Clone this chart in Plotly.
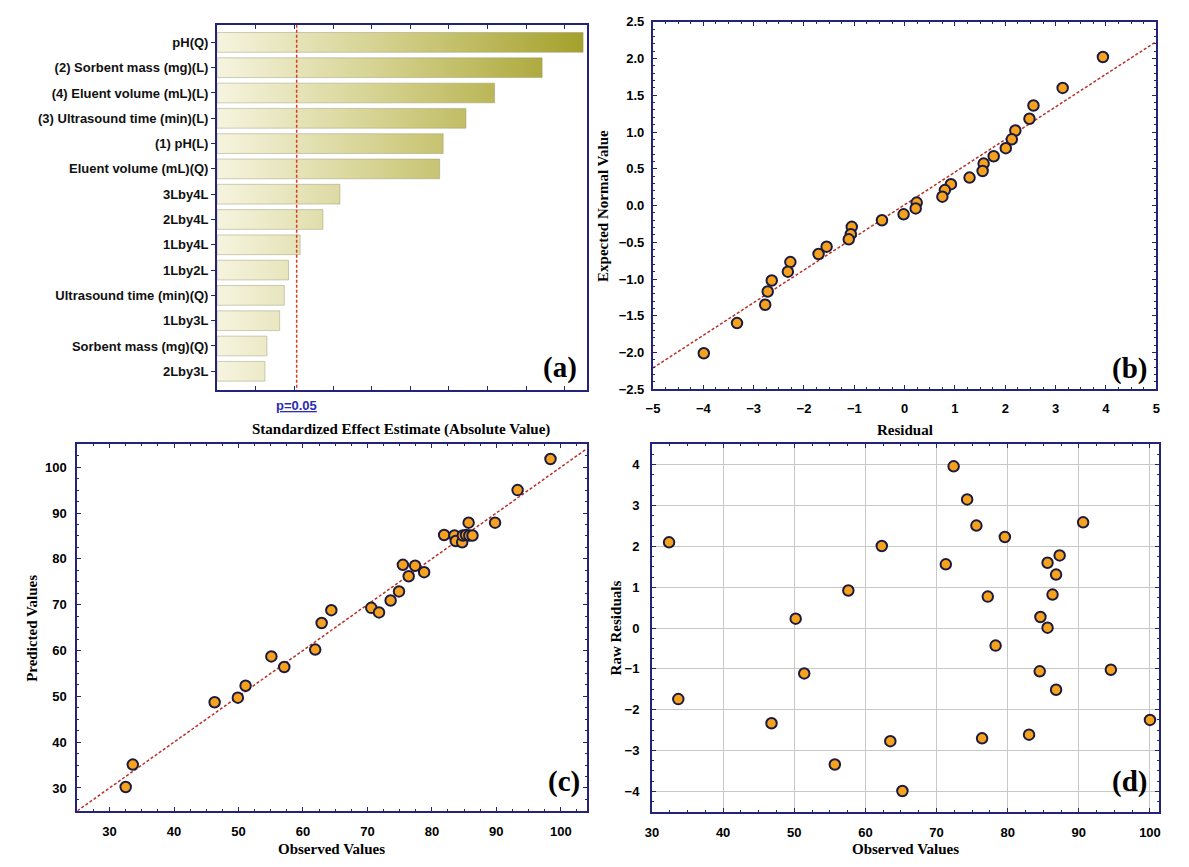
import plotly.graph_objects as go

# ---------------- data ----------------
effect_labels = ["pH(Q)", "(2) Sorbent mass (mg)(L)", "(4) Eluent volume (mL)(L)",
                 "(3) Ultrasound time (min)(L)", "(1) pH(L)", "Eluent volume (mL)(Q)",
                 "3Lby4L", "2Lby4L", "1Lby4L", "1Lby2L", "Ultrasound time (min)(Q)",
                 "1Lby3L", "Sorbent mass (mg)(Q)", "2Lby3L"]
effect_values = [9.47, 8.41, 7.18, 6.44, 5.85, 5.76, 3.18, 2.74, 2.15, 1.85, 1.74, 1.62, 1.29, 1.24]
p_threshold = 2.06

resid_b = [3.94, 3.14, 2.56, 2.48, 2.20, 2.13, 2.01, 1.77, 1.57, 1.55, 1.29, 0.92, 0.80, 0.75,
           0.24, 0.22, -0.02, -0.45, -1.05, -1.07, -1.11, -1.55, -1.71, -2.27, -2.32, -2.64,
           -2.72, -2.77, -3.33, -3.99]
expected_b = [2.02, 1.60, 1.36, 1.18, 1.02, 0.90, 0.78, 0.67, 0.57, 0.47, 0.38, 0.29, 0.21, 0.12,
              0.04, -0.04, -0.12, -0.20, -0.29, -0.39, -0.46, -0.56, -0.66, -0.77, -0.90, -1.02,
              -1.17, -1.35, -1.60, -2.01]
normal_line_x = [-5, 5]
normal_line_y = [-2.21, 2.23]
prob_labels = [".99", ".95", ".75", ".55", ".35", ".15", ".05", ".01"]
prob_positions = [1.94, 1.35, 0.55, 0.19, -0.17, -0.84, -1.34, -2.0]

obs_c = [32.5, 33.6, 46.3, 49.9, 51.1, 55.1, 57.1, 61.9, 62.9, 64.4, 70.6, 71.8, 73.6, 74.9,
         75.5, 76.4, 77.4, 78.8, 81.9, 83.5, 83.7, 84.7, 84.8, 85.3, 85.8, 86.3, 85.7, 89.8,
         93.3, 98.4]
pred_c = [30.2, 35.1, 48.7, 49.7, 52.3, 58.7, 56.4, 60.2, 66.0, 68.8, 69.3, 68.3, 70.9, 72.9,
          78.7, 76.2, 78.5, 77.1, 85.2, 85.1, 83.9, 83.6, 85.1, 85.2, 85.1, 85.1, 87.9, 87.9,
          95.0, 101.8]
fit_line_c = [25, 104]

obs_d = [32.4, 33.7, 46.8, 50.2, 51.4, 55.7, 57.6, 62.3, 63.5, 65.2, 71.3, 72.4, 74.3, 75.6,
         76.4, 77.2, 78.3, 79.6, 83.0, 84.5, 84.6, 85.6, 85.6, 86.3, 86.8, 86.8, 87.3, 90.6,
         94.5, 100.0]
res_d = [2.10, -1.74, -2.33, 0.23, -1.11, -3.34, 0.92, 2.01, -2.77, -3.99, 1.56, 3.96, 3.15,
         2.51, -2.70, 0.77, -0.43, 2.23, -2.61, -1.06, 0.27, 0.01, 1.60, 0.82, -1.51, 1.31,
         1.78, 2.59, -1.02, -2.25]

# ---------------- style ----------------
W, H = 1189, 867
NAVY = "#23237a"
SANS = "Liberation Sans"
SERIF = "Liberation Serif"
MARKER = dict(size=10.5, color="#f7a21e", line=dict(color="#1b1b40", width=2))
DASH_RED = dict(color="#b8322a", width=1.5, dash="3px,2px")


def px_x(v):
    return v / W


def px_y(v):
    return 1 - v / H


fig = go.Figure()

# ---- (a) Pareto chart with gradient bars ----
half = 0.39
vmax = max(effect_values)
for i, (lab, v) in enumerate(zip(effect_labels, effect_values)):
    fig.add_trace(go.Scatter(
        x=[0, v, v, 0, 0], y=[i - half, i - half, i + half, i + half, i - half],
        mode="lines", fill="toself",
        line=dict(color="rgba(150,148,110,0.45)", width=1),
        fillgradient=dict(type="horizontal", start=0, stop=vmax,
                          colorscale=[[0, "#f6f4df"], [0.45, "#d4d18e"], [1, "#a4a02a"]]),
        xaxis="x", yaxis="y", showlegend=False, hoverinfo="skip"))
fig.add_trace(go.Scatter(x=[p_threshold, p_threshold], y=[-0.7, len(effect_labels) - 0.25],
                         mode="lines", line=dict(color="#d83a1e", width=1.5, dash="3px,2px"),
                         xaxis="x", yaxis="y", showlegend=False))

# ---- (b) normal probability plot ----
fig.add_trace(go.Scatter(x=normal_line_x, y=normal_line_y, mode="lines", line=DASH_RED,
                         xaxis="x2", yaxis="y2", showlegend=False))
fig.add_trace(go.Scatter(x=resid_b, y=expected_b, mode="markers", marker=MARKER,
                         xaxis="x2", yaxis="y2", showlegend=False))

# ---- (c) observed vs predicted ----
fig.add_trace(go.Scatter(x=fit_line_c, y=fit_line_c, mode="lines", line=DASH_RED,
                         xaxis="x3", yaxis="y3", showlegend=False))
fig.add_trace(go.Scatter(x=obs_c, y=pred_c, mode="markers", marker=MARKER,
                         xaxis="x3", yaxis="y3", showlegend=False))

# ---- (d) residuals vs observed ----
fig.add_trace(go.Scatter(x=obs_d, y=res_d, mode="markers", marker=MARKER,
                         xaxis="x4", yaxis="y4", showlegend=False))

tickfont = dict(family=SANS, size=13, color="black", weight="bold")
frame = dict(showline=True, linecolor=NAVY, linewidth=2, mirror="allticks",
             ticks="inside", tickcolor=NAVY, ticklen=4, tickwidth=1, zeroline=False,
             showgrid=False, tickfont=tickfont)

dom_a_x = [px_x(212), px_x(585)]
dom_a_y = [px_y(390), px_y(18)]
dom_b_x = [px_x(652), px_x(1160)]
dom_b_y = [px_y(389), px_y(15)]
dom_c_x = [px_x(71), px_x(585)]
dom_c_y = [px_y(818), px_y(445)]
dom_d_x = [px_x(651), px_x(1163)]
dom_d_y = [px_y(819), px_y(445)]

fig.update_layout(
    width=W, height=H, margin=dict(l=0, r=0, t=0, b=0),
    paper_bgcolor="white", plot_bgcolor="white",
    xaxis=dict(frame, domain=dom_a_x, anchor="y", range=[0, 9.56], dtick=1, tick0=0,
               showticklabels=False),
    yaxis=dict(frame, domain=dom_a_y, anchor="x", range=[13.75, -0.7],
               tickvals=list(range(len(effect_labels))), ticktext=effect_labels,
               ticks="outside", mirror=True, ticklen=4,
               tickfont=dict(family=SANS, size=13, color="#111", weight="bold")),
    xaxis2=dict(frame, domain=dom_b_x, anchor="y2", range=[-5, 5], dtick=1,
                minor=dict(ticks="inside", dtick=0.25, ticklen=2, tickcolor=NAVY),
                ticklabelstandoff=6),
    yaxis2=dict(frame, domain=dom_b_y, anchor="x2", range=[-2.5, 2.5], dtick=0.5,
                tickformat=".1f",
                minor=dict(ticks="inside", dtick=0.1, ticklen=2, tickcolor=NAVY),
                ticklabelstandoff=4),
    yaxis5=dict(overlaying="y2", side="right", anchor="x2", range=[-2.5, 2.5],
                tickvals=prob_positions, ticktext=prob_labels, ticks="",
                showgrid=False, zeroline=False, showline=False,
                tickfont=dict(family=SANS, size=13, color="black"), ticklabelstandoff=3),
    xaxis3=dict(frame, domain=dom_c_x, anchor="y3", range=[25, 104], dtick=10,
                minor=dict(ticks="inside", dtick=2.5, ticklen=2, tickcolor=NAVY),
                ticklabelstandoff=8),
    yaxis3=dict(frame, domain=dom_c_y, anchor="x3", range=[25, 105], dtick=10,
                minor=dict(ticks="inside", dtick=2.5, ticklen=2, tickcolor=NAVY),
                ticklabelstandoff=6),
    xaxis4=dict(frame, domain=dom_d_x, anchor="y4", range=[30, 101.3], dtick=10,
                showgrid=True, gridcolor="#c8c8c8", gridwidth=1.2,
                minor=dict(ticks="inside", dtick=2.5, ticklen=2, tickcolor=NAVY),
                ticklabelstandoff=8),
    yaxis4=dict(frame, domain=dom_d_y, anchor="x4", range=[-4.5, 4.5], dtick=1,
                showgrid=True, gridcolor="#c8c8c8", gridwidth=1.2,
                minor=dict(ticks="inside", dtick=0.25, ticklen=2, tickcolor=NAVY),
                ticklabelstandoff=8),
)

title_font = dict(family=SERIF, size=15, color="black", weight="bold")
panel_font = dict(family=SERIF, size=29, color="black", weight="bold")
ann = []


def add_text(text, x, y, font, xanchor="center", yanchor="middle", angle=0):
    ann.append(dict(text=text, x=px_x(x), y=px_y(y), xref="paper", yref="paper",
                    showarrow=False, font=font, xanchor=xanchor, yanchor=yanchor,
                    textangle=angle))


add_text("Standardized Effect Estimate (Absolute Value)", 398, 430, title_font)
add_text("Residual", 906, 430, title_font)
add_text("Expected Normal Value", 601, 202, title_font, angle=-90)
add_text("Observed Values", 328, 857, title_font)
add_text("Predicted Values", 25, 632, title_font, angle=-90)
add_text("Observed Values", 907, 857, title_font)
add_text("Raw Residuals", 615, 632, title_font, angle=-90)
add_text("(a)", 577, 367, panel_font, xanchor="right")
add_text("(b)", 1153, 368, panel_font, xanchor="right")
add_text("(c)", 580, 788, panel_font, xanchor="right")
add_text("(d)", 1153, 788, panel_font, xanchor="right")
ann.append(dict(text="<u>p=0.05</u>", x=p_threshold, xref="x", y=px_y(406), yref="paper",
                showarrow=False, font=dict(family=SANS, size=13, color="#2b2bb0", weight="bold"),
                xanchor="center", yanchor="middle"))
fig.update_layout(annotations=ann)

fig.write_html("out.html", config={"displayModeBar": False},
               post_script="document.body.style.margin='0px';")
